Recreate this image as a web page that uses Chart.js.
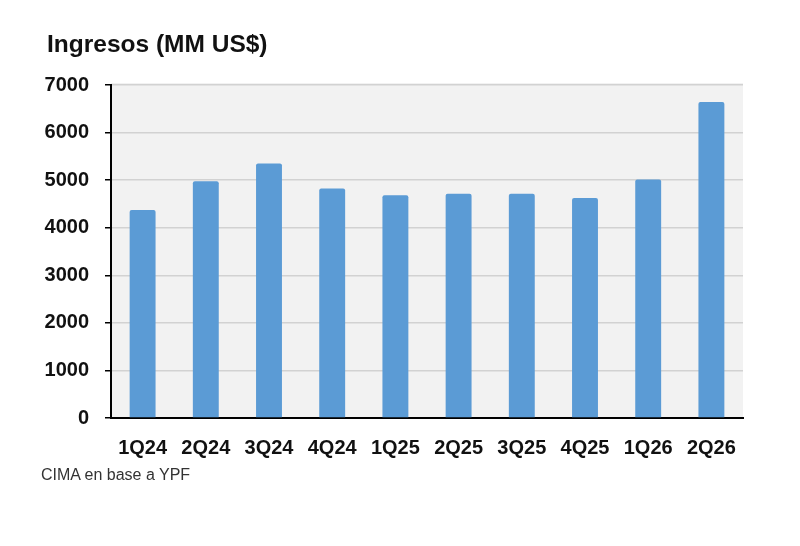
<!DOCTYPE html>
<html lang="es">
<head>
    <meta charset="UTF-8">
    <title>Ingresos (MM US$)</title>
    <script src="https://cdn.jsdelivr.net/npm/chart.js"></script>
    <style>
        html, body {
            margin: 0;
            padding: 0;
            background: #ffffff;
        }
        .wrap {
            position: relative;
            width: 800px;
            height: 546px;
            font-family: 'Liberation Sans', Arial, sans-serif;
        }
        .title {
            position: absolute;
            left: 47px;
            top: 30px;
            font-size: 24.5px;
            font-weight: bold;
            color: #111;
        }
        .source {
            position: absolute;
            left: 41px;
            top: 466px;
            font-size: 16px;
            color: #333;
        }
        canvas {
            position: absolute;
            left: 0;
            top: 0;
        }
    </style>
</head>
<body>
    <div class="wrap">
        <canvas id="ingresosChart" width="800" height="546"></canvas>
        <div class="title">Ingresos (MM US$)</div>
        <div class="source">CIMA en base a YPF</div>
    </div>

    <script>
        const quarters = ['1Q24', '2Q24', '3Q24', '4Q24', '1Q25', '2Q25', '3Q25', '4Q25', '1Q26', '2Q26'];
        const ingresos = [4370, 4975, 5350, 4825, 4685, 4715, 4715, 4625, 5015, 6645];
        const yTicks = [0, 1000, 2000, 3000, 4000, 5000, 6000, 7000];

        // gray fill behind the plot area
        const plotBackground = {
            id: 'plotBackground',
            beforeDraw(chart) {
                const { ctx, chartArea } = chart;
                ctx.save();
                ctx.fillStyle = '#f2f2f2';
                ctx.fillRect(chartArea.left, chartArea.top - 2, chartArea.right - chartArea.left, chartArea.bottom - chartArea.top + 2);
                ctx.restore();
            }
        };

        const tickFont = { family: 'Liberation Sans', size: 20, weight: 'bold' };

        const ctx = document.getElementById('ingresosChart').getContext('2d');
        new Chart(ctx, {
            type: 'bar',
            data: {
                labels: quarters,
                datasets: [{
                    label: 'Ingresos',
                    data: ingresos,
                    backgroundColor: '#5b9bd5',
                    borderRadius: 2,
                    borderSkipped: 'bottom',
                    categoryPercentage: 1,
                    barPercentage: 0.41
                }]
            },
            plugins: [plotBackground],
            options: {
                responsive: false,
                animation: false,
                layout: {
                    padding: { top: 85, right: 57, bottom: 0, left: 0 }
                },
                plugins: {
                    legend: { display: false },
                    tooltip: { enabled: false }
                },
                scales: {
                    x: {
                        grid: { display: false },
                        border: { display: true, color: '#000', width: 2 },
                        ticks: {
                            color: '#111',
                            padding: 10,
                            font: tickFont
                        },
                        afterFit(scale) { scale.height = 128; }
                    },
                    y: {
                        min: 0,
                        max: 7000,
                        afterBuildTicks(scale) {
                            scale.ticks = yTicks.map(v => ({ value: v }));
                        },
                        grid: {
                            color: '#d2d2d2',
                            lineWidth: 1.5,
                            tickColor: '#000',
                            tickLength: 6
                        },
                        border: { display: true, color: '#000', width: 2 },
                        ticks: {
                            color: '#111',
                            padding: 16,
                            font: tickFont,
                            callback: v => String(v)
                        },
                        afterFit(scale) { scale.width = 111; }
                    }
                }
            }
        });
    </script>
</body>
</html>
